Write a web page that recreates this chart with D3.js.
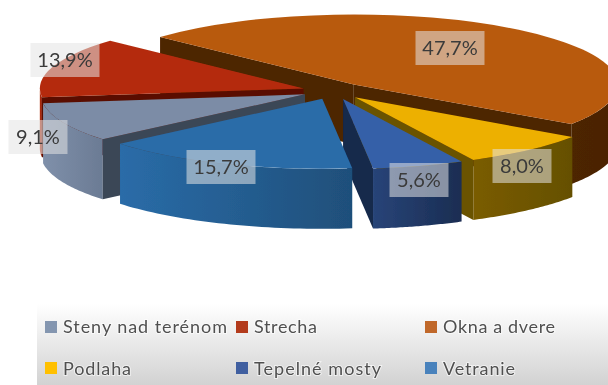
<!DOCTYPE html>
<html>
<head>
<meta charset="utf-8">
<script src="https://cdn.jsdelivr.net/npm/d3@7"></script>
<style>
html,body{margin:0;padding:0;background:#fff;overflow:hidden}
svg{display:block}
text{font-family:Lato,"Open Sans",sans-serif}
</style>
</head>
<body>
<svg id="c" width="608" height="385"></svg>
<script>
// data
const categories = ["Steny nad terénom","Strecha","Okna a dvere","Podlaha","Tepelné mosty","Vetranie"];
const values = [9.1,13.9,47.7,8.0,5.6,15.7];
// colours per slice
const topColors  = ["#7B8CA6","#B42C0C","#B85A10","#EDB000","#3560A8","#2A6CA8"];
const wallLeft   = ["#7F90AA","#B42C0C","#4D2503","#7A5C00","#284478","#2A6CA8"];
const wallRight  = ["#6B7B94","#8E2209","#4A2302","#655000","#1A2D52","#1F4F7A"];
const sideColors = ["#3B4656","#5A1000","#4D2503","#6B5200","#14294C","#1E4C78"];
const legendColors = ["#8496B0","#B33A1E","#C0682C","#FFC000","#3F5FA0","#4A82BC"];
// layout
const W=608,H=385, cx=334, cy=91, rx=264, ry=70, explode=0.12, depth=60;
const startDeg=230;
const labelCenters=[[38,137],[65,60],[450,48],[522,166],[419,180],[221,167]];
const drawOrder=[2,1,0,3,4,5];
const legendColX=[45,236,425], legendRowY=[321,362], legendBaseY=[333,375];
const legendTextW=[164,63,112,68,127,72];

const svg=d3.select("#c");
const defs=svg.append("defs");
const blur=defs.append("filter").attr("id","soft").attr("x","-5%").attr("y","-5%").attr("width","110%").attr("height","110%");
blur.append("feGaussianBlur").attr("stdDeviation",0.55);

const lg=defs.append("linearGradient").attr("id","legbg").attr("x1",0).attr("y1",0).attr("x2",0).attr("y2",1);
lg.append("stop").attr("offset",0).attr("stop-color","#ffffff");
lg.append("stop").attr("offset",1).attr("stop-color","#D2D2D2");

const pie=d3.pie().sort(null).value(d=>d)
  .startAngle(startDeg*Math.PI/180).endAngle((startDeg+360)*Math.PI/180);
const arcs=pie(values);
const arcGen=d3.arc().innerRadius(0).outerRadius(rx);
const yScale=ry/rx;
const line=d3.line();

function pt(a,ax,ay,dz){return [ax+rx*Math.sin(a), ay-ry*Math.cos(a)+dz];}

const chart=svg.append("g").attr("filter","url(#soft)");

drawOrder.forEach(i=>{
  const d=arcs[i], mid=(d.startAngle+d.endAngle)/2;
  const ax=cx+explode*rx*Math.sin(mid), ay=cy-explode*ry*Math.cos(mid);
  const g=chart.append("g");

  const gid="wall"+i;
  const gr=defs.append("linearGradient").attr("id",gid);
  gr.append("stop").attr("offset",0).attr("stop-color",wallLeft[i]);
  gr.append("stop").attr("offset",1).attr("stop-color",wallRight[i]);

  const twoPi=2*Math.PI;
  [[Math.PI/2,3*Math.PI/2],[Math.PI/2+twoPi,3*Math.PI/2+twoPi]].forEach(([lo,hi])=>{
    const a0=Math.max(d.startAngle,lo), a1=Math.min(d.endAngle,hi);
    if(a1<=a0) return;
    const steps=d3.range(0,41).map(k=>a0+(a1-a0)*k/40);
    const ptsTop=steps.map(a=>pt(a,ax,ay,0));
    const ptsBot=steps.slice().reverse().map(a=>pt(a,ax,ay,depth));
    g.append("path").attr("d",line(ptsTop.concat(ptsBot))+"Z").attr("fill",`url(#${gid})`);
  });

  if(Math.sin(d.startAngle)<0){
    const p=pt(d.startAngle,ax,ay,0);
    g.append("path").attr("d",line([[ax,ay],p,[p[0],p[1]+depth],[ax,ay+depth]])+"Z").attr("fill",sideColors[i]);
  }
  if(Math.sin(d.endAngle)>0){
    const p=pt(d.endAngle,ax,ay,0);
    g.append("path").attr("d",line([[ax,ay],p,[p[0],p[1]+depth],[ax,ay+depth]])+"Z").attr("fill",sideColors[i]);
  }

  g.append("path")
    .attr("transform",`translate(${ax},${ay}) scale(1,${yScale})`)
    .attr("d",arcGen(d))
    .attr("fill",topColors[i]);
});

// data labels
const fmt=d3.format(".1f");
const labels=svg.append("g").attr("filter","url(#soft)");
values.forEach((v,i)=>{
  const [lx,ly]=labelCenters[i];
  const t=fmt(v).replace(".",",")+"%";
  const w=t.length>4?69:59;
  labels.append("rect").attr("x",lx-w/2).attr("y",ly-17).attr("width",w).attr("height",34)
    .attr("fill","#E4E4E4").attr("fill-opacity",0.55);
  labels.append("text").attr("x",lx).attr("y",ly+7).attr("text-anchor","middle")
    .attr("font-size",20).attr("fill","#3A3A3A").text(t);
});

// legend
svg.append("rect").attr("x",37).attr("y",304).attr("width",W-37).attr("height",H-304).attr("fill","url(#legbg)");
const legend=svg.append("g").attr("filter","url(#soft)");
categories.forEach((c,i)=>{
  const x=legendColX[i%3], row=Math.floor(i/3);
  legend.append("rect").attr("x",x).attr("y",legendRowY[row]).attr("width",12).attr("height",12).attr("fill",legendColors[i]);
  legend.append("text").attr("x",x+18).attr("y",legendBaseY[row]).attr("font-size",18)
    .attr("textLength",legendTextW[i]).attr("lengthAdjust","spacing")
    .attr("fill","#505050").attr("stroke","#fff").attr("stroke-opacity",0.6).attr("stroke-width",2)
    .attr("paint-order","stroke").text(c);
});
</script>
</body>
</html>
